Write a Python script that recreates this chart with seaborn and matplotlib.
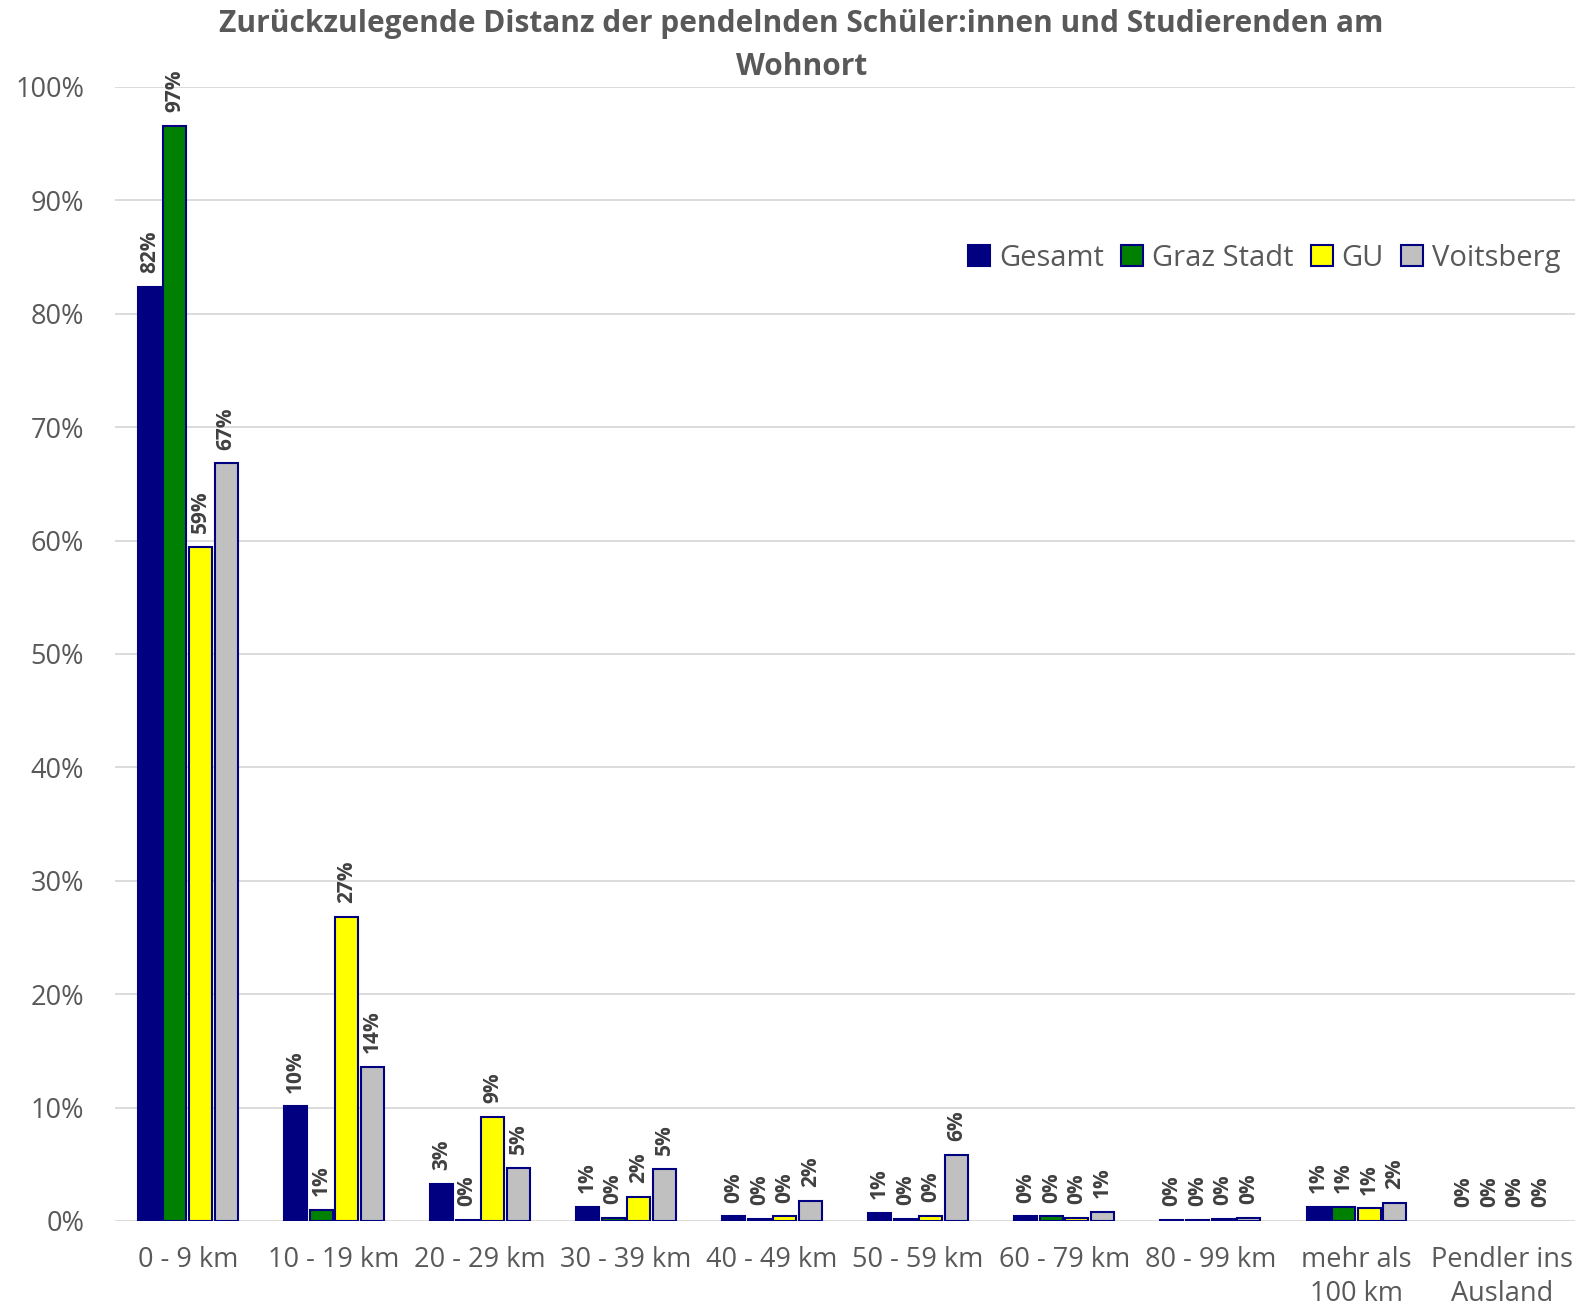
import pandas as pd
import matplotlib.pyplot as plt
import seaborn as sns
from matplotlib.ticker import PercentFormatter

sns.set_theme(style="whitegrid")
plt.rcParams['font.family'] = ['Open Sans', 'DejaVu Sans']

# Distanzklassen und Anteile
kategorien = ["0 - 9 km", "10 - 19 km", "20 - 29 km", "30 - 39 km", "40 - 49 km",
              "50 - 59 km", "60 - 79 km", "80 - 99 km", "mehr als\n100 km", "Pendler ins\nAusland"]
regionen = ["Gesamt", "Graz Stadt", "GU", "Voitsberg"]

gesamt = [0.824, 0.101, 0.033, 0.012, 0.004, 0.007, 0.004, 0.001, 0.012, 0.0]
graz_stadt = [0.966, 0.010, 0.001, 0.0025, 0.002, 0.0015, 0.004, 0.0005, 0.012, 0.0]
gu = [0.594, 0.268, 0.092, 0.021, 0.004, 0.0045, 0.003, 0.002, 0.011, 0.0]
voitsberg = [0.668, 0.136, 0.047, 0.046, 0.018, 0.058, 0.008, 0.003, 0.0155, 0.0]

farben = ["#000080", "#008000", "#FFFF00", "#C0C0C0"]

df = pd.DataFrame({
    "Distanz": kategorien * 4,
    "Region": [r for r in regionen for _ in kategorien],
    "Anteil": gesamt + graz_stadt + gu + voitsberg,
})

fig = plt.figure(figsize=(15.93, 13.12), dpi=100)
ax = fig.add_axes([0.072, 0.0694, 0.917, 0.8643])

sns.barplot(data=df, x="Distanz", y="Anteil", hue="Region", palette=farben,
            width=0.7, gap=0.1, saturation=1, edgecolor="#000080", linewidth=1.5,
            errorbar=None, ax=ax)

# Balken mit Wert 0 nicht zeichnen (wie im Original)
for p in ax.patches:
    if p.get_height() == 0:
        p.set_linewidth(0)

for cont in ax.containers:
    ax.bar_label(cont, fmt=lambda v: f"{v:.0%}", rotation=90, padding=10,
                 fontsize=15, fontweight="bold", color="#404040")

ax.set_ylim(0, 1.0)
ax.set_xlim(-0.5, 9.5)
ax.yaxis.set_major_formatter(PercentFormatter(1.0, decimals=0))
ax.set_yticks([i / 10 for i in range(11)])
ax.set_xlabel("")
ax.set_ylabel("")
ax.grid(axis="y", color="#D9D9D9", linewidth=1.3)
ax.grid(axis="x", visible=False)
for s in ax.spines.values():
    s.set_visible(False)
ax.tick_params(axis="both", length=0, labelsize=19.5, labelcolor="#595959")
ax.tick_params(axis="x", pad=18)
ax.tick_params(axis="y", pad=22)
for t in ax.get_xticklabels():
    t.set_linespacing(1.3)

handles, labels = ax.get_legend_handles_labels()
leg = ax.legend(handles, labels, loc="center right", bbox_to_anchor=(0.996, 0.803),
                bbox_transform=fig.transFigure, ncol=4, frameon=False, fontsize=21,
                handlelength=0.75, handleheight=0.75, handletextpad=0.3,
                columnspacing=0.6, labelcolor="#595959")
for h in leg.legend_handles:
    h.set_edgecolor("#000080")
    h.set_linewidth(1.5)

fig.text(0.503, 0.993, "Zurückzulegende Distanz der pendelnden Schüler:innen und Studierenden am\nWohnort",
         ha="center", va="top", fontsize=21.5, fontweight="bold", color="#595959",
         linespacing=1.55)

fig.savefig("out.png", dpi=100)
